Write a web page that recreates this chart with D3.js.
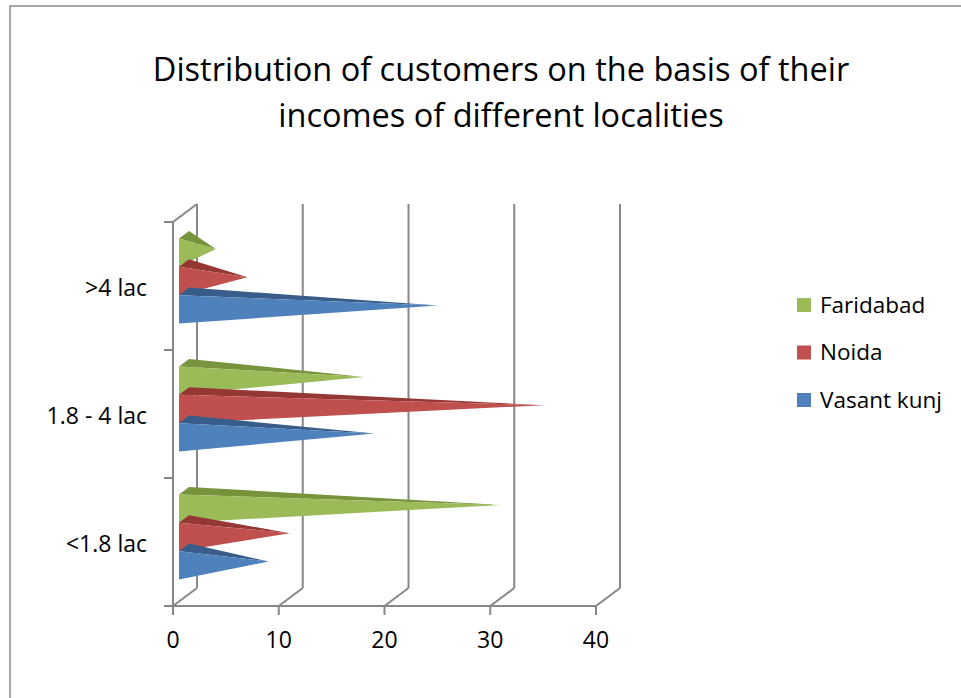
<!DOCTYPE html>
<html>
<head>
<meta charset="utf-8">
<script src="https://cdn.jsdelivr.net/npm/d3@7"></script>
<style>
  body { margin: 0; background: #fff; }
  svg text { font-family: "Open Sans", Lato, sans-serif; fill: #000; font-variant-ligatures: none; }
</style>
</head>
<body>
<div id="chart"></div>
<script>
// chart values
const categories = ["<1.8 lac", "1.8 - 4 lac", ">4 lac"];
const seriesNames = ["Faridabad", "Noida", "Vasant kunj"];
const faridabad = [30, 17, 3];
const noida = [10, 34, 6];
const vasantKunj = [8, 18, 24];
const xTicks = [0, 10, 20, 30, 40];
const titleLines = ["Distribution of customers on the basis of their", "incomes of different localities"];

const colors = {
  "Faridabad":   {front: "#9bbb59", top: "#77933c"},
  "Noida":       {front: "#c0504d", top: "#953735"},
  "Vasant kunj": {front: "#4f81bd", top: "#385d8a"}
};

const width = 961, height = 698;
const DX = 24, DY = -18;          // depth offset of back wall
const barD0 = 0.25, barD1 = 0.67; // depth span of the pyramids
const gridColor = "#878787";

const svg = d3.select("#chart").append("svg")
  .attr("width", width).attr("height", height);

// outer frame of the chart area
svg.append("rect")
  .attr("x", 10).attr("y", 6).attr("width", 1000).attr("height", 800)
  .attr("fill", "none").attr("stroke", "#8a8a8a").attr("stroke-width", 1.5);

// title
svg.append("g").selectAll("text")
  .data(titleLines)
  .join("text")
  .attr("x", 501)
  .attr("y", (d, i) => 81 + i * 46)
  .attr("text-anchor", "middle")
  .style("font-size", "32.5px")
  .text(d => d);

// scales
const x = d3.scaleLinear().domain([0, 40]).range([173, 596]);
const y = d3.scaleBand().domain(categories).range([606, 222]);
const ySeries = d3.scaleBand().domain(seriesNames).range([21, y.bandwidth() - 22]);

const P = (v, yy, d) => [x(v) + d * DX, yy + d * DY];

const [y0, y1] = [222, 606];

// back wall gridlines
svg.append("g").selectAll("line")
  .data(xTicks)
  .join("line")
  .attr("x1", d => x(d) + DX).attr("x2", d => x(d) + DX)
  .attr("y1", y1 + DY).attr("y2", y0 + DY)
  .attr("stroke", gridColor).attr("stroke-width", 2);

// floor diagonals
svg.append("g").selectAll("line")
  .data(xTicks)
  .join("line")
  .attr("x1", d => x(d)).attr("x2", d => x(d) + DX)
  .attr("y1", y1).attr("y2", y1 + DY)
  .attr("stroke", gridColor).attr("stroke-width", 2);

// front floor line and value ticks
svg.append("line")
  .attr("x1", x(0) - 9).attr("x2", x(40))
  .attr("y1", y1).attr("y2", y1)
  .attr("stroke", gridColor).attr("stroke-width", 2);
svg.append("g").selectAll("line")
  .data(xTicks)
  .join("line")
  .attr("x1", d => x(d)).attr("x2", d => x(d))
  .attr("y1", y1).attr("y2", y1 + 9)
  .attr("stroke", gridColor).attr("stroke-width", 2);

// left wall
svg.append("line")
  .attr("x1", x(0)).attr("x2", x(0)).attr("y1", y0).attr("y2", y1)
  .attr("stroke", gridColor).attr("stroke-width", 2);
svg.append("line")
  .attr("x1", x(0)).attr("x2", x(0) + DX).attr("y1", y0).attr("y2", y0 + DY)
  .attr("stroke", gridColor).attr("stroke-width", 2);
const catEdges = categories.map(c => y(c)).concat([y1]);
svg.append("g").selectAll("line")
  .data(catEdges)
  .join("line")
  .attr("x1", x(0) - 9).attr("x2", x(0))
  .attr("y1", d => d).attr("y2", d => d)
  .attr("stroke", gridColor).attr("stroke-width", 2);

// pyramids: build rows (drawn top to bottom so lower bars overlap)
const seriesValues = {"Faridabad": faridabad, "Noida": noida, "Vasant kunj": vasantKunj};
const rows = [];
categories.slice().reverse().forEach(cat => {
  const ci = categories.indexOf(cat);
  seriesNames.forEach(s => {
    rows.push({cat, series: s, value: seriesValues[s][ci]});
  });
});

const barG = svg.append("g");
rows.forEach(r => {
  const top = y(r.cat) + ySeries(r.series);
  const bot = top + ySeries.bandwidth();
  const mid = (top + bot) / 2;
  const dm = (barD0 + barD1) / 2;
  const A = P(0, top, barD0);
  const B = P(0, bot, barD0);
  const C = P(0, top, barD1);
  const apex = P(r.value, mid, dm);
  barG.append("path")
    .attr("d", "M" + [A, C, apex].join("L") + "Z")
    .attr("fill", colors[r.series].top);
  barG.append("path")
    .attr("d", "M" + [A, B, apex].join("L") + "Z")
    .attr("fill", colors[r.series].front);
});

// value labels
svg.append("g").selectAll("text")
  .data(xTicks)
  .join("text")
  .attr("x", d => x(d))
  .attr("y", 648)
  .attr("text-anchor", "middle")
  .style("font-size", "23px")
  .text(d => d);

// category labels
svg.append("g").selectAll("text")
  .data(categories)
  .join("text")
  .attr("x", 147)
  .attr("y", d => y(d) + y.bandwidth() / 2 + 10)
  .attr("text-anchor", "end")
  .style("font-size", "23px")
  .text(d => d);

// legend
const legend = svg.append("g").attr("transform", "translate(797,298)");
const li = legend.selectAll("g")
  .data(seriesNames)
  .join("g")
  .attr("transform", (d, i) => `translate(0,${i * 47.5})`);
li.append("rect")
  .attr("width", 14).attr("height", 14)
  .attr("fill", d => colors[d].front);
li.append("text")
  .attr("x", 23).attr("y", 14.5)
  .style("font-size", "22.5px")
  .text(d => d);
</script>
</body>
</html>
